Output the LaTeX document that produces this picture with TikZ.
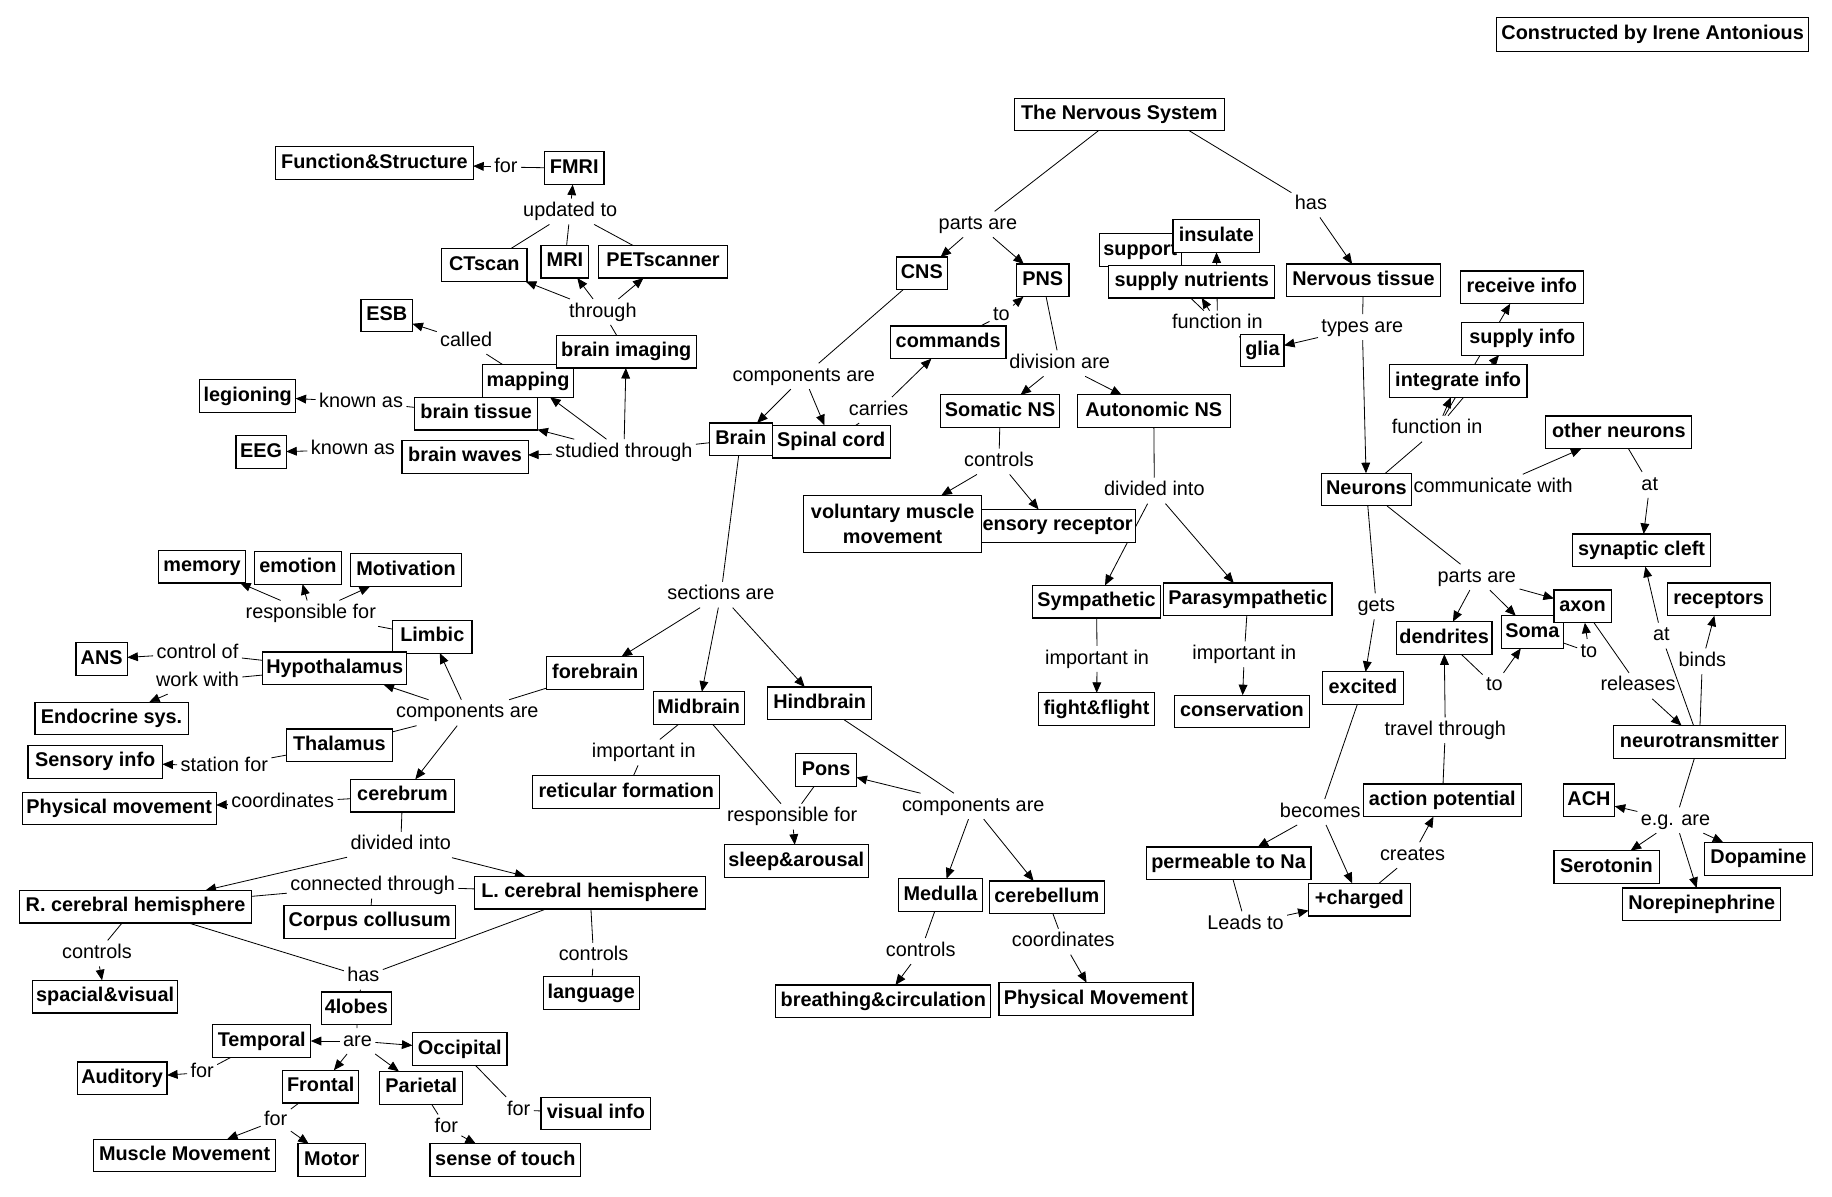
\documentclass[tikz,border=0pt]{standalone}
\usepackage{fontspec}
\setmainfont{Liberation Sans}
\usetikzlibrary{arrows.meta,backgrounds}
\begin{document}
\begin{tikzpicture}[x=1pt,y=-1pt,
 boxbase/.style={draw, line width=1pt, fill=white, font=\bfseries\fontsize{17}{22}\selectfont, inner xsep=2pt, inner ysep=0pt, outer sep=0pt, minimum height=28pt},
 box/.style={boxbase, text height=12.5pt, text depth=3.7pt},
 lab/.style={font=\fontsize{17}{20}\selectfont, inner xsep=3pt, inner ysep=3pt, outer sep=0pt, text height=12.5pt, text depth=3.7pt},
 ln/.style={line width=0.7pt},
 ar/.style={line width=0.7pt, -{Triangle[length=9pt,width=7.5pt]}}]
\useasboundingbox (0,0) rectangle (1568,1024);
% ---------- boxes ----------
\node[box, minimum width=267, minimum height=29] (cons) at (1414.5,29.5) {Constructed by Irene Antonious};
\node[box, minimum width=180] (tns) at (958,98) {The Nervous System};
\node[box, minimum width=169] (fs) at (320.5,139.5) {Function\&Structure};
\node[box, minimum width=51] (fmri) at (491.5,144) {FMRI};
\node[box, minimum width=73] (ct) at (414.5,227) {CTscan};
\node[box, minimum width=41] (mri) at (483.5,224) {MRI};
\node[box, minimum width=111] (pet) at (567.5,224) {PETscanner};
\node[box, minimum width=44] (esb) at (331,270) {ESB};
\node[box, minimum width=78] (mapping) at (452,326) {mapping};
\node[box, minimum width=120] (bimg) at (536,301) {brain imaging};
\node[box, minimum width=82] (legion) at (212,339) {legioning};
\node[box, minimum width=105] (btissue) at (407.5,354) {brain tissue};
\node[box, minimum width=43] (eeg) at (223.5,387) {EEG};
\node[box, minimum width=108] (bwaves) at (398,391) {brain waves};
\node[box, minimum width=54] (brain) at (634,376) {Brain};
\node[box, minimum width=101] (spinal) at (711.5,378) {Spinal cord};
\node[box, minimum width=44] (cns) at (789,234) {CNS};
\node[box, minimum width=45] (pns) at (892.5,240) {PNS};
\node[box, minimum width=99] (cmds) at (811.5,293) {commands};
\node[box, minimum width=70] (support) at (976,214) {support};
\node[box, minimum width=74] (insulate) at (1041,202) {insulate};
\node[box, minimum width=142] (supnut) at (1020,241) {supply nutrients};
\node[box, minimum width=37] (glia) at (1080.5,300) {glia};
\node[box, minimum width=132] (ntissue) at (1167,240) {Nervous tissue};
\node[box, minimum width=105] (recv) at (1302.5,246) {receive info};
\node[box, minimum width=104] (supinfo) at (1303,290) {supply info};
\node[box, minimum width=118] (integ) at (1248,326) {integrate info};
\node[box, minimum width=125] (other) at (1385.5,370) {other neurons};
\node[box, minimum width=77] (neurons) at (1169.5,419) {Neurons};
\node[box, minimum width=102] (somatic) at (856,352) {Somatic NS};
\node[box, minimum width=131] (autonomic) at (987.5,352) {Autonomic NS};
\node[box, minimum width=143] (sensrec) at (900.5,450) {sensory receptor};
\node[boxbase, minimum width=152, minimum height=49, align=center] (volun) at (764,448.5) {voluntary muscle\\movement};
\node[box, minimum width=109] (symp) at (938.5,515) {Sympathetic};
\node[box, minimum width=144] (para) at (1068,513) {Parasympathetic};
\node[box, minimum width=99] (fight) at (938.5,607) {fight\&flight};
\node[box, minimum width=116] (conserv) at (1063,609) {conservation};
\node[box, minimum width=118] (synap) at (1405,471) {synaptic cleft};
\node[box, minimum width=88] (recept) at (1471,513) {receptors};
\node[box, minimum width=53] (soma) at (1311.5,541) {Soma};
\node[box, minimum width=49] (axon) at (1354.5,519) {axon};
\node[box, minimum width=82] (dend) at (1236,546) {dendrites};
\node[box, minimum width=69] (excited) at (1166.5,589) {excited};
\node[box, minimum width=147] (ntrans) at (1454.5,635) {neurotransmitter};
\node[box, minimum width=135] (actpot) at (1234.5,685) {action potential};
\node[box, minimum width=44] (ach) at (1360,685) {ACH};
\node[box, minimum width=92] (dopa) at (1505,735) {Dopamine};
\node[box, minimum width=90] (sero) at (1375,742) {Serotonin};
\node[box, minimum width=135] (norep) at (1456.5,774) {Norepinephrine};
\node[box, minimum width=141] (perm) at (1051.5,739) {permeable to Na};
\node[box, minimum width=87] (charged) at (1163.5,770) {+charged};
\node[box, minimum width=74] (memory) at (173,485) {memory};
\node[box, minimum width=74] (emotion) at (255,486) {emotion};
\node[box, minimum width=95] (motiv) at (347.5,488) {Motivation};
\node[box, minimum width=68] (limbic) at (370,545) {Limbic};
\node[box, minimum width=44] (ans) at (87,564) {ANS};
\node[box, minimum width=123] (hypo) at (286.5,572) {Hypothalamus};
\node[box, minimum width=131] (endo) at (95.5,615) {Endocrine sys.};
\node[box, minimum width=83] (fore) at (509.5,576) {forebrain};
\node[box, minimum width=91] (thal) at (290.5,638) {Thalamus};
\node[box, minimum width=115] (sensinfo) at (81.5,652) {Sensory info};
\node[box, minimum width=89] (cereb) at (344.5,681) {cerebrum};
\node[box, minimum width=166] (physm) at (102,692) {Physical movement};
\node[box, minimum width=78] (mid) at (598,606) {Midbrain};
\node[box, minimum width=89] (hind) at (701.5,602) {Hindbrain};
\node[box, minimum width=160] (retic) at (536,678) {reticular formation};
\node[box, minimum width=52] (pons) at (707,659) {Pons};
\node[box, minimum width=123] (sleep) at (681.5,737) {sleep\&arousal};
\node[box, minimum width=198] (rch) at (116,776) {R. cerebral hemisphere};
\node[box, minimum width=198] (lch) at (505,764) {L. cerebral hemisphere};
\node[box, minimum width=147] (corpus) at (316.5,789) {Corpus collusum};
\node[box, minimum width=124] (spacial) at (90,853) {spacial\&visual};
\node[box, minimum width=82] (lang) at (506,850) {language};
\node[box, minimum width=60] (lobes) at (305,863) {4lobes};
\node[box, minimum width=84] (temporal) at (224,891) {Temporal};
\node[box, minimum width=81] (occip) at (393.5,898) {Occipital};
\node[box, minimum width=77] (audit) at (104.5,923) {Auditory};
\node[box, minimum width=65] (frontal) at (274.5,930) {Frontal};
\node[box, minimum width=71] (pariet) at (360.5,931) {Parietal};
\node[box, minimum width=94] (visinfo) at (510,953) {visual info};
\node[box, minimum width=156] (muscle) at (158,989) {Muscle Movement};
\node[box, minimum width=58] (motor) at (284,993) {Motor};
\node[box, minimum width=129] (touch) at (432.5,993) {sense of touch};
\node[box, minimum width=72] (medulla) at (805,766) {Medulla};
\node[box, minimum width=98] (cerebel) at (896,768) {cerebellum};
\node[box, minimum width=184] (breath) at (756,857) {breathing\&circulation};
\node[box, minimum width=166] (physM) at (938,855) {Physical Movement};
% ---------- linking phrases ----------
\node[lab] (Lfor1) at (433,143) {for};
\node[lab] (Lupd) at (488,181) {updated to};
\node[lab] (Lthr) at (516,267) {through};
\node[lab] (Lcalled) at (399,292) {called};
\node[lab] (Lka1) at (309,344) {known as};
\node[lab] (Lka2) at (302,385) {known as};
\node[lab] (Lstud) at (534,387) {studied through};
\node[lab] (Lparts) at (837,192) {parts are};
\node[lab] (Lhas) at (1122,175) {has};
\node[lab] (Lcomp1) at (688,322) {components are};
\node[lab] (Lcarries) at (752,351) {carries};
\node[lab] (Lto1) at (857,270) {to};
\node[lab] (Ldiv) at (907,311) {division are};
\node[lab] (Lfi1) at (1042,277) {function in};
\node[lab] (Ltypes) at (1166,280) {types are};
\node[lab] (Lfi2) at (1230,367) {function in};
\node[lab] (Lcomm) at (1278,417) {communicate with};
\node[lab] (Lat1) at (1412,415) {at};
\node[lab] (Lctrl1) at (855,395) {controls};
\node[lab] (Ldivi1) at (988,420) {divided into};
\node[lab] (Limp1) at (939,564) {important in};
\node[lab] (Limp2) at (1065,560) {important in};
\node[lab] (Lparts2) at (1264,494) {parts are};
\node[lab] (Lgets) at (1178,519) {gets};
\node[lab] (Lto2) at (1360,558) {to};
\node[lab] (Lto3) at (1279,587) {to};
\node[lab] (Lat2) at (1422,544) {at};
\node[lab] (Lbinds) at (1457,566) {binds};
\node[lab] (Lrel) at (1402,587) {releases};
\node[lab] (Ltrav) at (1237,625) {travel through};
\node[lab] (Lbec) at (1130,695) {becomes};
\node[lab] (Lcre) at (1209,732) {creates};
\node[lab] (Llead) at (1066,791) {Leads to};
\node[lab] (Leg) at (1434,702) {e.g. are};
\node[lab] (Lsec) at (617,509) {sections are};
\node[lab] (Lresp1) at (266,525) {responsible for};
\node[lab] (Lctlof) at (169,559) {control of};
\node[lab] (Lwork) at (169,583) {work with};
\node[lab] (Lcomp2) at (400,610) {components are};
\node[lab] (Lstat) at (192,656) {station for};
\node[lab] (Lcoord1) at (242,687) {coordinates};
\node[lab] (Limp3) at (551,644) {important in};
\node[lab] (Lresp2) at (678,699) {responsible for};
\node[lab] (Lcomp3) at (833,690) {components are};
\node[lab] (Ldivi2) at (343,723) {divided into};
\node[lab] (Lconn) at (319,758) {connected through};
\node[lab] (Lctrl2) at (83,816) {controls};
\node[lab] (Lhas2) at (311,836) {has};
\node[lab] (Lctrl3) at (508,818) {controls};
\node[lab] (Lctrl4) at (788,814) {controls};
\node[lab] (Lcoord2) at (910,806) {coordinates};
\node[lab] (Lare) at (306,891) {are};
\node[lab] (Lfor2) at (173,918) {for};
\node[lab] (Lfor3) at (236,959) {for};
\node[lab] (Lfor4) at (382,965) {for};
\node[lab] (Lfor5) at (444,950) {for};
% ---------- connectors ----------
\begin{pgfonlayer}{background}
\fill[white] (0,0) rectangle (1568,1024);
% imaging cluster
\draw[ln] (fmri) -- (Lfor1);
\draw[ar] (Lfor1) -- (fs);
\draw[ar] (Lupd) -- (fmri);
\draw[ln] (ct) -- (Lupd);
\draw[ln] (mri) -- (Lupd);
\draw[ln] (pet) -- (Lupd);
\draw[ln] (bimg) -- (Lthr);
\draw[ar] (Lthr) -- (ct);
\draw[ar] (Lthr) -- (mri);
\draw[ar] (Lthr) -- (pet);
\draw[ln] (mapping) -- (Lcalled);
\draw[ar] (Lcalled) -- (esb);
\draw[ln] (brain) -- (Lstud);
\draw[ar] (Lstud) -- (bimg);
\draw[ar] (Lstud) -- (mapping);
\draw[ar] (Lstud) -- (btissue);
\draw[ar] (Lstud) -- (bwaves);
\draw[ln] (btissue) -- (Lka1);
\draw[ar] (Lka1) -- (legion);
\draw[ar] (Lka2) -- (eeg);
% top
\draw[ln] (tns) -- (Lparts);
\draw[ar] (Lparts) -- (cns);
\draw[ar] (Lparts) -- (pns);
\draw[ln] ([xshift=60pt]tns.south) -- (Lhas);
\draw[ar] (Lhas) -- (ntissue);
\draw[ln] (cns) -- (Lcomp1);
\draw[ar] (Lcomp1) -- (brain);
\draw[ar] (Lcomp1) -- (spinal);
\draw[ln] (spinal) -- (Lcarries);
\draw[ar] (Lcarries) -- (cmds);
\draw[ln] (cmds) -- (Lto1);
\draw[ar] (Lto1) -- (pns);
\draw[ln] (pns) -- (Ldiv);
\draw[ar] (Ldiv) -- (somatic);
\draw[ar] (Ldiv) -- (autonomic);
\draw[ln] (somatic) -- (Lctrl1);
\draw[ar] (Lctrl1) -- (volun);
\draw[ar] (Lctrl1) -- (sensrec);
\draw[ln] (autonomic) -- (Ldivi1);
\draw[ar] (Ldivi1) -- (symp);
\draw[ar] (Ldivi1) -- (para);
\draw[ln] (symp) -- (Limp1);
\draw[ar] (Limp1) -- (fight);
\draw[ln] (para) -- (Limp2);
\draw[ar] (Limp2) -- (conserv);
% glia / neurons
\draw[ln] (ntissue) -- (Ltypes);
\draw[ar] (Ltypes) -- (glia);
\draw[ar] (Ltypes) -- (neurons);
\draw[ln] (glia) -- (Lfi1);
\draw[ar] (Lfi1) -- (insulate);
\draw[ar] (Lfi1) -- (supnut);
\draw[ar] (Lfi1) -- (support);
\draw[ln] (neurons) -- (Lfi2);
\draw[ar] (Lfi2) -- (integ);
\draw[ar] (Lfi2) -- ([xshift=-20pt]supinfo.south);
\draw[ar] (Lfi2) -- ([xshift=-10pt]recv.south);
\draw[ar] (Lcomm) -- (other);
\draw[ln] (other) -- (Lat1);
\draw[ar] (Lat1) -- (synap);
\draw[ln] (neurons) -- (Lparts2);
\draw[ar] (Lparts2) -- (dend);
\draw[ar] (Lparts2) -- (soma);
\draw[ar] (Lparts2) -- (axon);
\draw[ln] (neurons) -- (Lgets);
\draw[ar] (Lgets) -- (excited);
\draw[ln] (excited) -- (Lbec);
\draw[ar] (Lbec) -- (perm);
\draw[ar] (Lbec) -- (charged);
\draw[ln] (perm) -- (Llead);
\draw[ar] (Llead) -- (charged);
\draw[ln] (charged) -- (Lcre);
\draw[ar] (Lcre) -- (actpot);
\draw[ln] (actpot) -- (Ltrav);
\draw[ar] (Ltrav) -- (dend);
\draw[ln] (dend) -- (Lto3);
\draw[ar] (Lto3) -- (soma);
\draw[ln] (soma) -- (Lto2);
\draw[ar] (Lto2) -- (axon);
\draw[ln] (axon) -- (Lrel);
\draw[ar] (Lrel) -- (ntrans);
\draw[ln] (ntrans) -- (Lat2);
\draw[ar] (Lat2) -- (synap);
\draw[ln] (ntrans) -- (Lbinds);
\draw[ar] (Lbinds) -- (recept);
\draw[ln] (ntrans) -- (Leg);
\draw[ar] (Leg) -- (ach);
\draw[ar] (Leg) -- (sero);
\draw[ar] (Leg) -- (norep);
\draw[ar] (Leg) -- (dopa);
% brain sections
\draw[ln] (brain) -- (Lsec);
\draw[ar] (Lsec) -- (fore);
\draw[ar] (Lsec) -- (mid);
\draw[ar] (Lsec) -- (hind);
\draw[ln] (fore) -- (Lcomp2);
\draw[ar] (Lcomp2) -- (limbic);
\draw[ar] (Lcomp2) -- (hypo);
\draw[ln] (thal) -- (Lcomp2);
\draw[ar] (Lcomp2) -- (cereb);
\draw[ln] (limbic) -- (Lresp1);
\draw[ar] (Lresp1) -- (memory);
\draw[ar] (Lresp1) -- (emotion);
\draw[ar] (Lresp1) -- (motiv);
\draw[ln] (hypo) -- (Lctlof);
\draw[ar] (Lctlof) -- (ans);
\draw[ln] (hypo) -- (Lwork);
\draw[ar] (Lwork) -- (endo);
\draw[ln] (thal) -- (Lstat);
\draw[ar] (Lstat) -- (sensinfo);
\draw[ln] (cereb) -- (Lcoord1);
\draw[ar] (Lcoord1) -- (physm);
\draw[ln] (cereb) -- (Ldivi2);
\draw[ar] (Ldivi2) -- (rch);
\draw[ar] (Ldivi2) -- (lch);
\draw[ln] (rch) -- (Lconn);
\draw[ln] (lch) -- (Lconn);
\draw[ln] (Lconn) -- (corpus);
\draw[ln] (rch) -- (Lctrl2);
\draw[ar] (Lctrl2) -- (spacial);
\draw[ln] (rch) -- (Lhas2);
\draw[ln] (lch) -- (Lhas2);
\draw[ln] (Lhas2) -- (lobes);
\draw[ln] (lch) -- (Lctrl3);
\draw[ln] (Lctrl3) -- (lang);
\draw[ln] (lobes) -- (Lare);
\draw[ar] (Lare) -- (temporal);
\draw[ar] (Lare) -- (occip);
\draw[ar] (Lare) -- (frontal);
\draw[ar] (Lare) -- (pariet);
\draw[ln] (temporal) -- (Lfor2);
\draw[ar] (Lfor2) -- (audit);
\draw[ln] (frontal) -- (Lfor3);
\draw[ar] (Lfor3) -- (muscle);
\draw[ar] (Lfor3) -- (motor);
\draw[ln] (pariet) -- (Lfor4);
\draw[ar] (Lfor4) -- (touch);
\draw[ln] (occip) -- (Lfor5);
\draw[ln] (Lfor5) -- (visinfo);
\draw[ln] (mid) -- (Limp3);
\draw[ln] (Limp3) -- (retic);
\draw[ln] (mid) -- (Lresp2);
\draw[ln] (pons) -- (Lresp2);
\draw[ar] (Lresp2) -- (sleep);
\draw[ln] (hind) -- (Lcomp3);
\draw[ar] (Lcomp3) -- (pons);
\draw[ar] (Lcomp3) -- (medulla);
\draw[ar] (Lcomp3) -- (cerebel);
\draw[ln] (medulla) -- (Lctrl4);
\draw[ar] (Lctrl4) -- (breath);
\draw[ln] (cerebel) -- (Lcoord2);
\draw[ar] (Lcoord2) -- (physM);
\end{pgfonlayer}
\end{tikzpicture}
\end{document}
